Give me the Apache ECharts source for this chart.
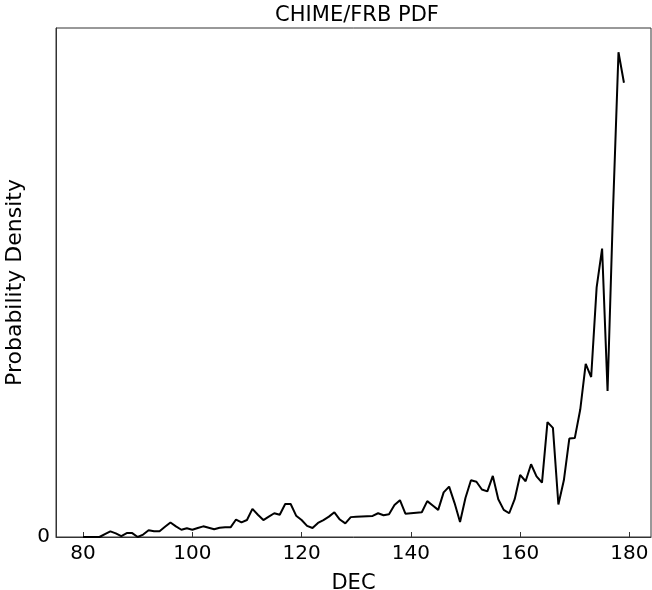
<!DOCTYPE html>
<html>
<head>
<meta charset="utf-8">
<script src="https://cdn.jsdelivr.net/npm/echarts@6/dist/echarts.min.js"></script>
<style>
  html, body { margin: 0; padding: 0; background: #fff; }
  #main { width: 652px; height: 590px; }
</style>
</head>
<body>
<div id="main"></div>
<script>
// declination bins (deg)
var dec = [
  80, 81, 82, 83, 84, 85, 86, 87, 88, 89,
  90, 91, 92, 93, 94, 95, 96, 97, 98, 99,
  100, 101, 102, 103, 104, 105, 106, 107, 108, 109,
  110, 111, 112, 113, 114, 115, 116, 117, 118, 119,
  120, 121, 122, 123, 124, 125, 126, 127, 128, 129,
  130, 131, 132, 133, 134, 135, 136, 137, 138, 139,
  140, 141, 142, 143, 144, 145, 146, 147, 148, 149,
  150, 151, 152, 153, 154, 155, 156, 157, 158, 159,
  160, 161, 162, 163, 164, 165, 166, 167, 168, 169,
  170, 171, 172, 173, 174, 175, 176, 177, 178, 179
];
// probability density (arbitrary units)
var density = [
  0, 0, 0, 0, 0.6, 1.17, 0.75, 0.2, 0.8, 0.8,
  0, 0.5, 1.4, 1.2, 1.2, 2.1, 3.0, 2.2, 1.5, 1.8,
  1.5, 1.85, 2.2, 1.9, 1.6, 1.9, 2.0, 2.0, 3.6, 3.0,
  3.5, 5.8, 4.6, 3.5, 4.2, 4.9, 4.6, 6.8, 6.8, 4.4,
  3.5, 2.3, 1.85, 2.9, 3.5, 4.2, 5.1, 3.6, 2.8, 4.1,
  4.2, 4.25, 4.3, 4.35, 4.9, 4.5, 4.7, 6.6, 7.6, 4.8,
  4.9, 5.0, 5.1, 7.4, 6.5, 5.6, 9.2, 10.4, 7.0, 3.1,
  8.1, 11.7, 11.4, 9.8, 9.4, 12.6, 7.8, 5.6, 4.9, 7.8,
  12.8, 11.5, 15.0, 12.5, 11.2, 23.7, 22.5, 6.7, 11.7, 20.3,
  20.4, 26.3, 35.7, 33.0, 51.5, 59.5, 30.1, 67.5, 100, 93.7
];
var xTicks = [80, 100, 120, 140, 160, 180];
var yTicks = [0];

var chart = echarts.init(document.getElementById('main'));
var font = 'DejaVu Sans';

chart.setOption({
  animation: false,
  title: {
    text: 'CHIME/FRB PDF',
    left: 352, top: 0, textAlign: 'center',
    textStyle: { fontFamily: font, fontSize: 21, fontWeight: 'normal', color: '#000' }
  },
  grid: {
    left: 56, right: 1, top: 28, bottom: 53,
    outerBoundsMode: 'none', containLabel: false,
    show: true, borderColor: '#333', borderWidth: 1
  },
  xAxis: {
    type: 'value',
    min: 75.05, max: 183.95,
    name: 'DEC', nameLocation: 'middle', nameGap: 36,
    nameTextStyle: { fontFamily: font, fontSize: 21, color: '#000' },
    axisLine: { lineStyle: { color: '#333', width: 1 } },
    axisTick: { inside: true, length: 5, customValues: xTicks, lineStyle: { color: '#333' } },
    axisLabel: { customValues: xTicks, fontFamily: font, fontSize: 20, color: '#000', margin: 7 },
    splitLine: { show: false }
  },
  yAxis: {
    type: 'value',
    min: 0, max: 105,
    name: 'Probability Density', nameLocation: 'middle', nameGap: 22,
    nameTextStyle: { fontFamily: font, fontSize: 22, color: '#000' },
    axisLine: { show: true, lineStyle: { color: '#333', width: 1 } },
    axisTick: { inside: true, length: 5, customValues: yTicks, lineStyle: { color: '#333' } },
    axisLabel: { customValues: yTicks, fontFamily: font, fontSize: 20, color: '#000', margin: 6 },
    splitLine: { show: false }
  },
  series: [{
    type: 'line',
    data: dec.map(function (d, i) { return [d, density[i]]; }),
    showSymbol: false,
    lineStyle: { color: '#000', width: 2 },
    itemStyle: { color: '#000' }
  }]
});
</script>
</body>
</html>
